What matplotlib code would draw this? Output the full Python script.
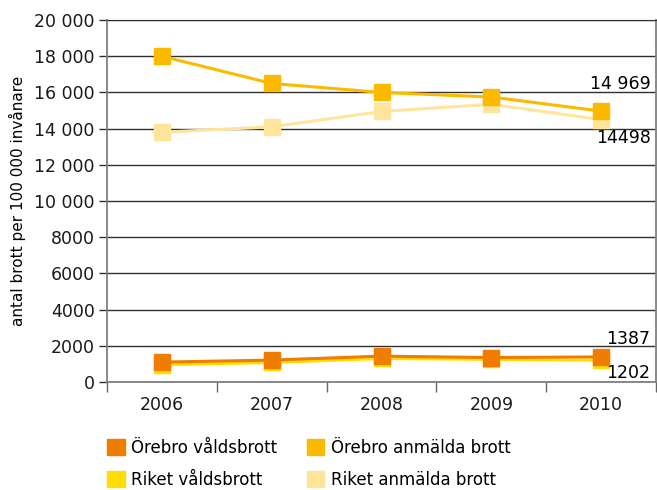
import numpy as np
import matplotlib.pyplot as plt
from matplotlib.patches import Patch

years = ['2006', '2007', '2008', '2009', '2010']
orebro_vald = [1100, 1210, 1430, 1350, 1387]
orebro_anm = [18000, 16500, 16000, 15750, 14969]
riket_vald = [950, 1080, 1300, 1250, 1202]
riket_anm = [13800, 14100, 14950, 15350, 14498]

ytick_vals = [0, 2000, 4000, 6000, 8000, 10000, 12000, 14000, 16000, 18000, 20000]
ytick_labels = ['0', '2000', '4000', '6000', '8000', '10 000', '12 000',
                '14 000', '16 000', '18 000', '20 000']

c_ov = '#EE7D00'
c_oa = '#FBBA00'
c_rv = '#FFDD00'
c_ra = '#FFE49C'

plt.rcParams['font.family'] = ['DejaVu Sans']

fig = plt.figure(figsize=(6.57, 4.90), dpi=100)
ax = fig.add_axes([0.163, 0.2204, 0.8355, 0.7386])

x = np.arange(len(years))
ms = 12
lw = 2.2
ax.plot(x, riket_anm, color=c_ra, lw=lw, marker='s', ms=ms, zorder=3)
ax.plot(x, riket_vald, color=c_rv, lw=lw, marker='s', ms=ms, zorder=3)
ax.plot(x, orebro_anm, color=c_oa, lw=lw, marker='s', ms=ms, zorder=4)
ax.plot(x, orebro_vald, color=c_ov, lw=lw, marker='s', ms=ms, zorder=4)

ax.set_xlim(-0.5, len(years) - 0.5)
ax.set_ylim(0, 20000)
ax.set_yticks(ytick_vals)
ax.set_yticklabels(ytick_labels, fontsize=12.5, color='#1a1a1a')
ax.yaxis.grid(True, color='#303030', lw=1)
ax.set_axisbelow(True)

ax.set_xticks(x)
ax.set_xticklabels(years, fontsize=12.5, color='#1a1a1a')
ax.tick_params(axis='x', length=0, pad=10)
ax.set_xticks(np.arange(-0.5, len(years)), minor=True)
ax.tick_params(axis='x', which='minor', length=7, color='#666666', width=1)
ax.tick_params(axis='y', length=6, color='#303030', width=1, pad=3)

for s in ['left', 'right', 'bottom']:
    ax.spines[s].set_color('#808080')
    ax.spines[s].set_linewidth(1.3)
ax.spines['top'].set_color('#303030')

ax.set_ylabel('antal brott per 100 000 invånare', fontsize=11, labelpad=6)

ax.text(4.45, orebro_anm[-1] + 1000, '14 969', ha='right', va='bottom', fontsize=12.5)
ax.text(4.45, riket_anm[-1] - 500, '14498', ha='right', va='top', fontsize=12.5)
ax.text(4.45, orebro_vald[-1] + 500, '1387', ha='right', va='bottom', fontsize=12.5)
ax.text(4.45, riket_vald[-1] - 200, '1202', ha='right', va='top', fontsize=12.5)

# legend fills column-wise, so order handles to get row layout of the original
handles = [Patch(color=c_ov, label='Örebro våldsbrott'),
           Patch(color=c_rv, label='Riket våldsbrott'),
           Patch(color=c_oa, label='Örebro anmälda brott'),
           Patch(color=c_ra, label='Riket anmälda brott')]
fig.legend(handles=handles, ncol=2, loc='upper left', bbox_to_anchor=(0.163, 0.105),
           frameon=False, fontsize=12, handlelength=1.05, handleheight=1.05,
           handletextpad=0.4, columnspacing=1.75, labelspacing=0.85,
           borderaxespad=0, borderpad=0)

fig.savefig('out.png', dpi=100)
